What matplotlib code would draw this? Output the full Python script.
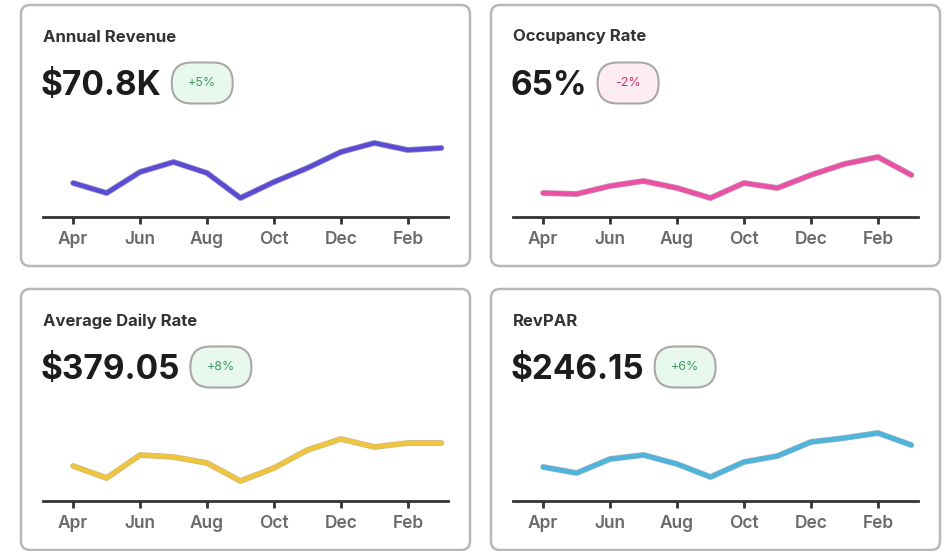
import matplotlib
matplotlib.use("Agg")
import matplotlib.pyplot as plt
import numpy as np
from matplotlib.patches import FancyBboxPatch
import matplotlib.patheffects as pe

plt.rcParams['font.family'] = ['Inter', 'DejaVu Sans']

# ---- data ----
months = ['Apr', 'May', 'Jun', 'Jul', 'Aug', 'Sep', 'Oct', 'Nov', 'Dec', 'Jan', 'Feb', 'Mar']
tick_months = ['Apr', 'Jun', 'Aug', 'Oct', 'Dec', 'Feb']

revenue = [5360, 4960, 5800, 6200, 5760, 4760, 5400, 5960, 6600, 6960, 6680, 6760]
occupancy = [59.6, 59.2, 62.4, 64.4, 61.6, 57.6, 63.6, 61.6, 66.8, 71.2, 74.0, 66.8]
adr = [370, 346, 392, 388, 376, 340, 366, 402, 424, 408, 416, 416]
revpar = [231, 222, 243, 249, 235.5, 216, 238.5, 247.5, 268.5, 274.5, 282, 264]

titles = ['Annual Revenue', 'Occupancy Rate', 'Average Daily Rate', 'RevPAR']
values = ['$70.8K', '65%', '$379.05', '$246.15']
changes = ['+5%', '-2%', '+8%', '+6%']

# ---- styles ----
series = [revenue, occupancy, adr, revpar]
line_colors = ['#5a4bd6', '#ec4fa6', '#f0c53c', '#4db5dc']
edge_colors = ['#2e2580', '#9a2466', '#a8851c', '#2a7394']
ylims = [(4000, 8400), (50, 94), (300, 520), (180, 345)]
badge_fill = {'+': '#e9f8ef', '-': '#fdecf2'}
badge_text = {'+': '#3f9d63', '-': '#c93a66'}

W, H = 948, 551
fig = plt.figure(figsize=(W / 100, H / 100), dpi=100)
fig.patch.set_facecolor('white')
bg = fig.add_axes([0, 0, 1, 1])
bg.set_xlim(0, W)
bg.set_ylim(H, 0)
bg.axis('off')

# card origins (left, top)
cards = [(21, 5), (491, 5), (21, 289), (491, 289)]
card_w, card_h = 449, 261

value_texts = []
for i, (cx, cy) in enumerate(cards):
    box = FancyBboxPatch((cx, cy), card_w, card_h,
                         boxstyle="round,pad=0,rounding_size=9",
                         fc='white', ec='#b8b8b8', lw=1.8, zorder=1)
    bg.add_patch(box)
    bg.text(cx + 22, cy + 32, titles[i], fontsize=12, fontweight='bold',
            color='#333333', va='center', ha='left', zorder=3)
    t = bg.text(cx + 20, cy + 81, values[i], fontsize=24, fontweight='bold',
                color='#1c1c1c', va='center', ha='left', zorder=3)
    value_texts.append(t)

    # chart axes
    x0 = cx + 22
    base = cy + 212
    ah = 110
    ax = fig.add_axes([x0 / W, 1 - base / H, 405 / W, ah / H])
    ax.set_facecolor('none')
    x = np.arange(len(months))
    ax.plot(x, series[i], color=line_colors[i], lw=3.0, solid_joinstyle='round',
            solid_capstyle='round',
            path_effects=[pe.Stroke(linewidth=4.2, foreground=edge_colors[i], alpha=0.55),
                          pe.Normal()])
    ax.set_xlim(-0.9, 11.2)
    ax.set_ylim(*ylims[i])
    for s in ['top', 'right', 'left']:
        ax.spines[s].set_visible(False)
    ax.spines['bottom'].set_color('#333333')
    ax.spines['bottom'].set_linewidth(2)
    ax.set_yticks([])
    ax.set_xticks([months.index(m) for m in tick_months])
    ax.set_xticklabels(tick_months)
    ax.tick_params(axis='x', length=5, width=2, color='#333333', pad=5,
                   labelsize=12.5, labelcolor='#6a6a6a')
    for lab in ax.get_xticklabels():
        lab.set_fontweight('semibold')

fig.canvas.draw()
renderer = fig.canvas.get_renderer()
for i, (cx, cy) in enumerate(cards):
    ext = value_texts[i].get_window_extent(renderer)
    bx = ext.x1 + 10
    bw, bh = 61, 41
    by = cy + 78 - bh / 2
    sign = changes[i][0]
    badge = FancyBboxPatch((bx, by), bw, bh,
                           boxstyle="round,pad=0,rounding_size=20",
                           fc=badge_fill[sign], ec='#a8a8a8', lw=1.5, zorder=3)
    bg.add_patch(badge)
    bg.text(bx + bw / 2, by + bh / 2, changes[i], fontsize=9,
            color=badge_text[sign], ha='center', va='center', zorder=4)

fig.savefig('out.png', dpi=100, facecolor='white')
